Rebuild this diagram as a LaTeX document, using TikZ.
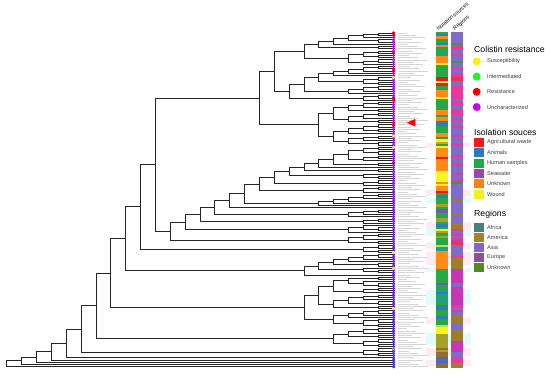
\documentclass[tikz,border=0pt]{standalone}
\usepackage{fontspec}
\setmainfont{Liberation Sans}
\usetikzlibrary{calc}

% strip colours
\definecolor{isog}{HTML}{27A844}
\definecolor{isoo}{HTML}{FF8A17}
\definecolor{isob}{HTML}{2F7DB5}
\definecolor{isot}{HTML}{1E9C9C}
\definecolor{isor}{HTML}{E61A1A}
\definecolor{isoy}{HTML}{F8F520}
\definecolor{isov}{HTML}{A3A12A}
\definecolor{ison}{HTML}{8E6E33}
\definecolor{isop}{HTML}{6A5CB8}
\definecolor{isol}{HTML}{B9E236}
\definecolor{rega}{HTML}{7F6CC8}
\definecolor{regk}{HTML}{E6399B}
\definecolor{regg}{HTML}{3E9B3A}
\definecolor{regn}{HTML}{9C7E2C}
\definecolor{regr}{HTML}{E8344E}
\definecolor{regm}{HTML}{C737B3}
\definecolor{dotA}{HTML}{B414E6}
\definecolor{dotB}{HTML}{4A2AD6}
\definecolor{bandpink}{HTML}{FDEBF4}
\definecolor{bandcyan}{HTML}{E3FAFC}
% legend colours
\definecolor{resS}{HTML}{FFF200}
\definecolor{resI}{HTML}{22F522}
\definecolor{resR}{HTML}{F20000}
\definecolor{resU}{HTML}{C800F5}
\definecolor{srcA}{HTML}{EE1C1C}
\definecolor{srcB}{HTML}{2B7BBA}
\definecolor{srcC}{HTML}{1FA94A}
\definecolor{srcD}{HTML}{A441A8}
\definecolor{srcE}{HTML}{FF7F10}
\definecolor{srcF}{HTML}{F4F21E}
\definecolor{geoA}{HTML}{4A7F7D}
\definecolor{geoB}{HTML}{A8841E}
\definecolor{geoC}{HTML}{8366C6}
\definecolor{geoD}{HTML}{8E4F93}
\definecolor{geoE}{HTML}{4E8C1E}

\tikzset{
  branch/.style={line width=0.8pt,black!85},
  labtick/.style={line width=0.75pt,black!17},
  legtitle/.style={anchor=west,inner sep=0pt,font=\fontsize{8.7}{10}\selectfont},
  legtext/.style={anchor=west,inner sep=0pt,text=black!75,font=\fontsize{5.6}{7}\selectfont},
  hdr/.style={anchor=south west,inner sep=0pt,rotate=40,font=\fontsize{5.3}{6}\selectfont},
  dotkey/.style={circle,inner sep=0pt,minimum size=8pt},
  boxkey/.style={rectangle,inner sep=0pt,minimum width=10pt,minimum height=9pt},
}

% clade: name, upper child, lower child (x from the height of the clade)
\newcommand\clade[3]{%
  \edef\cladeA{\csname ht#2\endcsname}%
  \edef\cladeB{\csname ht#3\endcsname}%
  \pgfmathtruncatemacro\cladeH{max(\cladeA,\cladeB)+1}%
  \expandafter\xdef\csname ht#1\endcsname{\cladeH}%
  \coordinate (#1x) at ({393-14.85*\cladeH},0);
  \draw[branch] (#2) -- (#2 -| #1x) -- (#3 -| #1x) -- (#3);
  \coordinate (#1) at ($(#2 -| #1x)!0.5!(#3 -| #1x)$);
}

\begin{document}
\begin{tikzpicture}[x=1pt,y=-1pt]
  \useasboundingbox (0,0) rectangle (550,375);
  % pale bands behind the strips
  \foreach \ya/\yb/\col in {143/147/bandpink,190/196/bandpink,198/203/bandcyan,222/229/bandpink,229/236/bandcyan,243/249/bandpink,252/265/bandpink,268/272/bandcyan,290/305/bandcyan,318/324/bandpink,333/345/bandcyan,348/356/bandpink,360/366/bandpink}
    \fill[\col] (426,\ya) rectangle (471,\yb);
  % isolation sources strip
  \foreach \c [count=\i from 0] in {g,b,o,g,g,b,o,g,g,t,g,o,o,o,y,g,g,g,g,g,r,r,y,r,g,g,o,o,o,y,g,g,g,g,g,o,o,g,o,o,b,b,g,g,g,o,o,g,y,o,g,y,o,o,o,o,r,o,o,o,o,o,y,y,y,y,y,o,y,o,o,r,g,b,g,g,g,v,g,p,p,g,g,v,v,g,b,g,y,v,g,v,g,g,g,l,t,t,o,o,o,o,o,o,o,o,g,g,g,g,g,g,p,g,g,t,b,t,g,t,g,g,b,b,g,g,g,b,g,g,g,l,y,y,y,v,v,v,v,v,v,n,v,n,n,p,b,p,n,n}
    \fill[iso\c] (436,{33+2.24*\i-1.2}) rectangle (448,{33+2.24*\i+1.2});
  % regions strip
  \foreach \c [count=\i from 0] in {a,a,a,a,a,g,k,k,a,a,k,a,a,g,a,a,k,a,a,k,r,r,a,a,k,k,k,k,k,k,a,k,k,a,a,k,k,a,a,k,a,a,k,a,a,a,k,a,a,a,k,a,a,a,a,k,a,a,a,k,a,a,a,k,a,a,k,g,a,a,a,a,a,a,a,n,a,a,a,a,a,n,a,a,a,a,n,n,k,a,k,a,k,m,r,a,a,a,a,a,k,n,n,n,n,n,m,m,m,m,m,m,a,a,m,m,m,m,m,m,m,m,k,a,k,a,a,n,n,n,a,a,a,n,n,n,n,n,m,m,m,m,m,a,a,k,k,k,n,n}
    \fill[reg\c] (451,{33+2.24*\i-1.2}) rectangle (463,{33+2.24*\i+1.2});
  \node[hdr] (hsrc) at (438.5,31) {Isolation sources};
  \node[hdr] (hreg) at (455.5,31.5) {Regions};

  % leaves
  \foreach \i in {0,...,149} {
    \coordinate (L\i) at (393,{33+2.24*\i});
    \expandafter\xdef\csname htL\i\endcsname{0}
  }
  % top clade
  \clade{a1}{L0}{L1} \clade{a2}{a1}{L2} \clade{a3}{L3}{L4} \clade{a4}{a2}{a3}
  \clade{a5}{a4}{L5} \clade{a6}{L6}{L7} \clade{a7}{a5}{a6}
  \clade{a8}{L8}{L9} \clade{a9}{L10}{L11} \clade{a10}{a8}{a9} \clade{a11}{L12}{L13}
  \clade{a12}{a11}{L14} \clade{a13}{a10}{a12} \clade{a14}{a7}{a13}
  \clade{b1}{L15}{L16} \clade{b2}{b1}{L17} \clade{b3}{b2}{L18} \clade{b4}{b3}{L19}
  \clade{b5}{L20}{L21} \clade{b6}{L22}{L23} \clade{b7}{b5}{b6} \clade{b8}{b4}{b7}
  \clade{b9}{L24}{L25} \clade{b10}{b9}{L26} \clade{b11}{b10}{L27} \clade{b12}{b8}{b11}
  \clade{b13}{L28}{L29} \clade{b14}{b13}{L30} \clade{b15}{b12}{b14} \clade{b16}{a14}{b15}
  \clade{c1}{L31}{L32} \clade{c2}{c1}{L33} \clade{c3}{L34}{L35} \clade{c4}{c2}{c3}
  \clade{c5}{L36}{L37} \clade{c6}{c5}{L38} \clade{c7}{L39}{L40} \clade{c8}{c6}{c7}
  \clade{c9}{c4}{c8}
  \clade{d1}{L41}{L42} \clade{d2}{L43}{L44} \clade{d3}{d1}{d2} \clade{d4}{d3}{L45}
  \clade{d5}{L46}{L47} \clade{d6}{d5}{L48} \clade{d7}{L49}{L50} \clade{d8}{d6}{d7}
  \clade{d9}{d4}{d8} \clade{d10}{c9}{d9}
  \clade{top}{b16}{d10}
  % ladder clade
  \clade{e1}{L51}{L52} \clade{e2}{L53}{L54} \clade{e3}{e1}{e2} \clade{e4}{L55}{L56}
  \clade{e5}{e4}{L57} \clade{e6}{e3}{e5} \clade{e7}{L58}{L59} \clade{e8}{e6}{e7}
  \clade{e9}{e8}{L60} \clade{e10}{L61}{L62} \clade{e11}{e9}{e10}
  \clade{e12}{L64}{L65} \clade{e13}{L63}{e12} \clade{e14}{e11}{e13}
  \clade{e15}{L66}{L67} \clade{e16}{e15}{L68} \clade{e17}{e14}{e16}
  \clade{e18}{L69}{L70} \clade{e19}{e18}{L71} \clade{e20}{e17}{e19}
  \clade{f1}{L72}{L73} \clade{f2}{f1}{L74} \clade{f3}{f2}{L75} \clade{f4}{f3}{L76}
  \clade{f5}{f4}{L77} \clade{e21}{e20}{f5} \clade{e22}{e21}{L78}
  \clade{f6}{L79}{L80} \clade{f7}{f6}{L81} \clade{f8}{f7}{L82} \clade{e23}{e22}{f8}
  \clade{f9}{L83}{L84} \clade{f10}{f9}{L85} \clade{e24}{e23}{f10}
  \clade{f11}{L87}{L88} \clade{f12}{L86}{f11} \clade{f13}{f12}{L89} \clade{e25}{e24}{f13}
  \clade{f14}{L90}{L91} \clade{f15}{f14}{L92} \clade{f16}{L93}{L94} \clade{f17}{f15}{f16}
  \clade{e26}{e25}{f17}
  \clade{g1}{top}{e26}
  \clade{s1}{L95}{L96} \clade{s2}{L97}{L98} \clade{s3}{s1}{s2}
  \clade{g2}{g1}{s3}
  \clade{k1}{L99}{L100} \clade{k2}{k1}{L101} \clade{k3}{k2}{L102} \clade{k4}{L103}{L104}
  \clade{k5}{k3}{k4} \clade{k6}{L106}{L107} \clade{k7}{L105}{k6} \clade{k8}{k5}{k7}
  \clade{k9}{k8}{L108}
  \clade{g3}{g2}{k9}
  \clade{p1}{L109}{L110} \clade{p2}{L112}{L113} \clade{p3}{L111}{p2} \clade{p4}{p1}{p3}
  \clade{p5}{L114}{L115} \clade{p6}{p5}{L116} \clade{p7}{p4}{p6}
  \clade{p8}{L117}{L118} \clade{p9}{p8}{L119} \clade{p10}{L120}{L121} \clade{p11}{p9}{p10}
  \clade{p12}{L122}{L123} \clade{p13}{p11}{p12} \clade{p14}{p7}{p13}
  \clade{p15}{L124}{L125} \clade{p16}{p15}{L126} \clade{p17}{p16}{L127}
  \clade{p18}{L128}{L129} \clade{p19}{L130}{L131} \clade{p20}{p18}{p19}
  \clade{p21}{p17}{p20} \clade{p22}{p14}{p21}
  \clade{g4}{g3}{p22}
  \clade{q1}{L132}{L133} \clade{q2}{q1}{L134} \clade{q3}{L135}{L136} \clade{q4}{q2}{q3}
  \clade{q5}{L137}{L138} \clade{q6}{L139}{L140} \clade{q7}{q5}{q6} \clade{q8}{q4}{q7}
  \clade{g5}{g4}{q8}
  \clade{r1}{L141}{L142} \clade{r2}{L143}{L144} \clade{r3}{r1}{r2}
  \clade{g6}{g5}{r3}
  \clade{g7}{g6}{L145} \clade{g8}{g7}{L146} \clade{g9}{g8}{L147} \clade{g10}{g9}{L148}
  \clade{root}{g10}{L149}

  % tip labels and tip dots
  \foreach \i in {0,...,149} {
    \pgfmathsetmacro\len{9+mod(\i*53,22)}
    \draw[labtick] ($(L\i)+(5,0)$) -- ++(\len,0);
  }
  \foreach \i in {0,...,149} {
    \pgfmathtruncatemacro\pct{100-100*\i/149}
    \fill[dotA!\pct!dotB] ($(L\i)+(0.6,0)$) circle (1.7);
  }
  \foreach \i/\col in {0/resR,1/resR,9/resR,16/resR,17/resR,20/resS,29/resR,30/resR,40/resR,41/resR,46/resS,51/resS,58/resR,98/resS,105/resS,123/resS,141/isov}
    \fill[\col] ($(L\i)+(0.6,0)$) circle (1.7);
  \fill[red] (406.7,122.7) -- (415.3,118.9) -- (415.3,126.5) -- cycle;

  % legend
  \node[legtitle] (tres) at (474,49) {Colistin resistance};
  \foreach \lab/\col [count=\k] in {Susceptibility/resS,Intermediated/resI,Resistance/resR,Uncharacterized/resU} {
    \pgfmathsetmacro\ky{61.3+15.25*(\k-1)}
    \node[dotkey,fill=\col] (kres\k) at (476.7,\ky) {};
    \node[legtext] (lres\k) at (487,\ky) {\lab};
  }
  \node[legtitle] (tsrc) at (474,132) {Isolation souces};
  \foreach \lab/\col [count=\k] in {Agricultural waste/srcA,Animals/srcB,Human samples/srcC,Seawater/srcD,Unknown/srcE,Wound/srcF} {
    \pgfmathsetmacro\ky{142.5+10.3*(\k-1)}
    \node[boxkey,fill=\col] (ksrc\k) at (478.5,\ky) {};
    \node[legtext] (lsrc\k) at (487,\ky) {\lab};
  }
  \node[legtitle] (tgeo) at (474,214) {Regions};
  \foreach \lab/\col [count=\k] in {Africa/geoA,America/geoB,Asia/geoC,Europe/geoD,Unknown/geoE} {
    \pgfmathsetmacro\ky{227+10.2*(\k-1)}
    \node[boxkey,fill=\col] (kgeo\k) at (478.5,\ky) {};
    \node[legtext] (lgeo\k) at (487,\ky) {\lab};
  }
\end{tikzpicture}
\end{document}
